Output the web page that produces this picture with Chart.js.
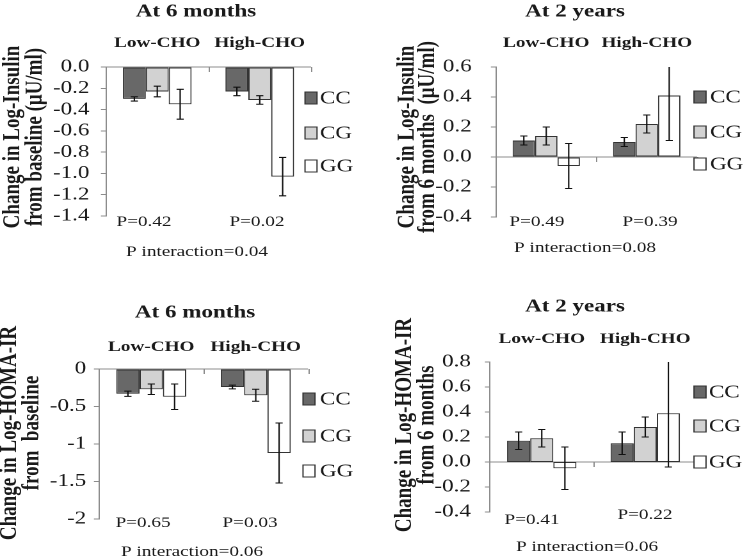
<!DOCTYPE html>
<html>
<head>
<meta charset="utf-8">
<script src="https://cdn.jsdelivr.net/npm/chart.js@4.4.1/dist/chart.umd.min.js"></script>
<style>
  body { margin: 0; background: #fff; }
  #wrap { position: relative; width: 745px; height: 560px; overflow: hidden; background: #fff; }
  .panel { position: absolute; width: 291px; height: 280px; transform: scaleX(1.28); transform-origin: 0 0; }
</style>
</head>
<body>
<div id="wrap">
  <div class="panel" style="left:0;top:0"><canvas id="c1" width="291" height="280"></canvas></div>
  <div class="panel" style="left:372px;top:0"><canvas id="c2" width="291" height="280"></canvas></div>
  <div class="panel" style="left:0;top:280px"><canvas id="c3" width="291" height="280"></canvas></div>
  <div class="panel" style="left:372px;top:280px"><canvas id="c4" width="291" height="280"></canvas></div>
</div>
<script>
const categories = ['Low-CHO', 'High-CHO'];
const genotypes = ['CC', 'CG', 'GG'];
const genoColors = ['#686868', '#d2d2d2', '#ffffff'];

// rows: CC, CG, GG  -- columns: Low-CHO, High-CHO
const insulin6mMean = [[-0.30, -0.23], [-0.23, -0.31], [-0.35, -1.03]];
const insulin6mErr = [[0.02, 0.04], [0.05, 0.04], [0.14, 0.18]];
const insulin6mTicks = ['0.0', '-0.2', '-0.4', '-0.6', '-0.8', '-1.0', '-1.2', '-1.4'];
const insulin6mP = ['P=0.42', 'P=0.02', 'P interaction=0.04'];

const insulin2yMean = [[0.11, 0.10], [0.14, 0.22], [-0.06, 0.41]];
const insulin2yErr = [[0.03, 0.03], [0.06, 0.06], [0.15, 0.30]];
const insulin2yTicks = ['0.6', '0.4', '0.2', '0.0', '-0.2', '-0.4'];
const insulin2yP = ['P=0.49', 'P=0.39', 'P interaction=0.08'];

const homa6mMean = [[-0.33, -0.24], [-0.27, -0.35], [-0.37, -1.12]];
const homa6mErr = [[0.035, 0.025], [0.07, 0.08], [0.17, 0.40]];
const homa6mTicks = ['0', '-0.5', '-1', '-1.5', '-2'];
const homa6mP = ['P=0.65', 'P=0.03', 'P interaction=0.06'];

const homa2yMean = [[0.17, 0.15], [0.19, 0.28], [-0.05, 0.39]];
const homa2yErr = [[0.07, 0.09], [0.07, 0.08], [0.17, 0.43]];
const homa2yTicks = ['0.8', '0.6', '0.4', '0.2', '0.0', '-0.2', '-0.4'];
const homa2yP = ['P=0.41', 'P=0.22', 'P interaction=0.06'];

const S = 1.28;      // horizontal stretch of each panel
const W = 291, H = 280;
const SERIF = '"Liberation Serif", "Times New Roman", serif';
const AXIS = '#8c8c8c';

function makePanel(id, means, errs, tickLabels, range, pTexts, title, yTitle, lay) {
  const ctx = document.getElementById(id).getContext('2d');

  const decorations = {
    id: 'decorations',
    afterDatasetsDraw(chart) {
      const c = chart.ctx;
      const ys = chart.scales.y, xs = chart.scales.x;
      const area = chart.chartArea;
      c.save();
      c.beginPath();
      c.rect(area.left - 5, area.top, area.right - area.left + 10, area.bottom - area.top);
      c.clip();
      c.strokeStyle = '#111';
      c.lineWidth = 1.1;
      chart.data.datasets.forEach((ds, i) => {
        chart.getDatasetMeta(i).data.forEach((bar, j) => {
          const v = ds.data[j], e = errs[i][j];
          const y1 = ys.getPixelForValue(v + e), y2 = ys.getPixelForValue(v - e);
          const cap = 2.8;
          c.beginPath();
          c.moveTo(bar.x, y1); c.lineTo(bar.x, y2);
          c.moveTo(bar.x - cap, y1); c.lineTo(bar.x + cap, y1);
          c.moveTo(bar.x - cap, y2); c.lineTo(bar.x + cap, y2);
          c.stroke();
        });
      });
      c.restore();

      // small ticks on the zero line between groups
      const zy = ys.getPixelForValue(0);
      c.save();
      c.strokeStyle = AXIS;
      c.lineWidth = 1;
      [0.5, 1.5].forEach(b => {
        const bx = Math.round(xs.getPixelForValue(b)) + 0.5;
        c.beginPath(); c.moveTo(bx, zy); c.lineTo(bx, zy + 5); c.stroke();
      });
      c.restore();
    },
    afterDraw(chart) {
      const c = chart.ctx;
      const xs = chart.scales.x;
      c.save();
      c.fillStyle = '#1a1a1a';
      c.textAlign = 'center';
      c.textBaseline = 'middle';

      c.font = 'bold 18px ' + SERIF;
      c.fillText(title, lay.titleX / S, lay.titleY);

      c.font = 'bold 15px ' + SERIF;
      categories.forEach((cat, i) => c.fillText(cat, xs.getPixelForValue(i), lay.subY));

      c.font = '15px ' + SERIF;
      c.fillText(pTexts[0], lay.pX[0] / S, lay.pY[0]);
      c.fillText(pTexts[1], lay.pX[1] / S, lay.pY[1]);
      c.fillText(pTexts[2], lay.interX / S, lay.interY);

      // legend
      c.font = '18px ' + SERIF;
      c.textAlign = 'left';
      genotypes.forEach((g, i) => {
        const y = lay.legY[i];
        c.fillStyle = genoColors[i];
        c.fillRect(lay.legSq / S, y - 6, 12 / S, 12);
        c.strokeStyle = '#333';
        c.lineWidth = 1;
        c.strokeRect(lay.legSq / S, y - 6, 12 / S, 12);
        c.fillStyle = '#1a1a1a';
        c.fillText(g, lay.legTx / S, y + 1);
      });

      // y axis title (two rotated lines)
      c.font = 'bold 19px ' + SERIF;
      c.textAlign = 'center';
      yTitle.forEach((line, i) => {
        c.save();
        c.translate(lay.yTitleX[i] / S, lay.yTitleY);
        c.rotate(-Math.PI / 2);
        c.fillText(line, 0, 0);
        c.restore();
      });
      c.restore();
    }
  };

  return new Chart(ctx, {
    type: 'bar',
    data: {
      labels: categories,
      datasets: genotypes.map((g, i) => ({
        label: g,
        data: means[i],
        backgroundColor: genoColors[i],
        borderColor: '#333',
        borderWidth: 1,
        borderSkipped: false,
        categoryPercentage: 0.67,
        barPercentage: 1.0
      }))
    },
    options: {
      responsive: false,
      animation: false,
      devicePixelRatio: 2,
      layout: { padding: { left: 0, top: lay.top, right: W - lay.right / S, bottom: H - lay.bottom } },
      plugins: { legend: { display: false }, tooltip: { enabled: false } },
      scales: {
        x: { display: false },
        y: {
          min: range[0], max: range[1],
          afterFit: s => { s.width = lay.left / S; },
          border: { display: true, color: AXIS, width: 1 },
          grid: {
            color: c => (c.tick && Math.abs(c.tick.value) < 1e-9 ? AXIS : 'rgba(0,0,0,0)'),
            tickColor: AXIS,
            tickLength: 4,
            drawTicks: true
          },
          ticks: {
            stepSize: range[2],
            autoSkip: false,
            padding: lay.tickPad,
            color: '#1a1a1a',
            font: { family: SERIF, size: 18 },
            callback: (v, i, t) => tickLabels[t.length - 1 - i]
          }
        }
      }
    },
    plugins: [decorations]
  });
}

makePanel('c1', insulin6mMean, insulin6mErr, insulin6mTicks, [-1.4, 0, 0.2], insulin6mP,
  'At 6 months', ['Change in Log-Insulin', 'from baseline (\u03bcU/ml)'],
  { left: 106, right: 311, top: 67, bottom: 216, tickPad: 9, titleX: 196, titleY: 12, subY: 43,
    pX: [144, 257], pY: [222, 222], interX: 197, interY: 252,
    legSq: 305, legTx: 320, legY: [98, 133, 166], yTitleX: [13, 35], yTitleY: 137 });

makePanel('c2', insulin2yMean, insulin2yErr, insulin2yTicks, [-0.4, 0.6, 0.2], insulin2yP,
  'At 2 years', ['Change in Log-Insulin', 'from 6 months  (\u03bcU/ml)'],
  { left: 124, right: 325, top: 67, bottom: 217, tickPad: 15, titleX: 203, titleY: 12, subY: 43,
    pX: [165, 278], pY: [222, 222], interX: 213, interY: 248,
    legSq: 322, legTx: 338, legY: [97, 132, 164], yTitleX: [35, 56], yTitleY: 137 });

makePanel('c3', homa6mMean, homa6mErr, homa6mTicks, [-2, 0, 0.5], homa6mP,
  'At 6 months', ['Change in Log-HOMA-IR', 'from  baseline'],
  { left: 99, right: 308, top: 89, bottom: 239, tickPad: 6, titleX: 195, titleY: 33, subY: 67,
    pX: [143, 250], pY: [243, 243], interX: 192, interY: 272,
    legSq: 303, legTx: 320, legY: [119, 156, 191], yTitleX: [10, 32], yTitleY: 153 });

makePanel('c4', homa2yMean, homa2yErr, homa2yTicks, [-0.4, 0.8, 0.2], homa2yP,
  'At 2 years', ['Change in Log-HOMA-IR', 'from 6 months'],
  { left: 118, right: 325, top: 82, bottom: 232, tickPad: 11, titleX: 203, titleY: 27, subY: 59,
    pX: [160, 273], pY: [240, 235], interX: 215, interY: 267,
    legSq: 322, legTx: 337, legY: [112, 146, 182], yTitleX: [33, 55], yTitleY: 145 });
</script>
</body>
</html>
